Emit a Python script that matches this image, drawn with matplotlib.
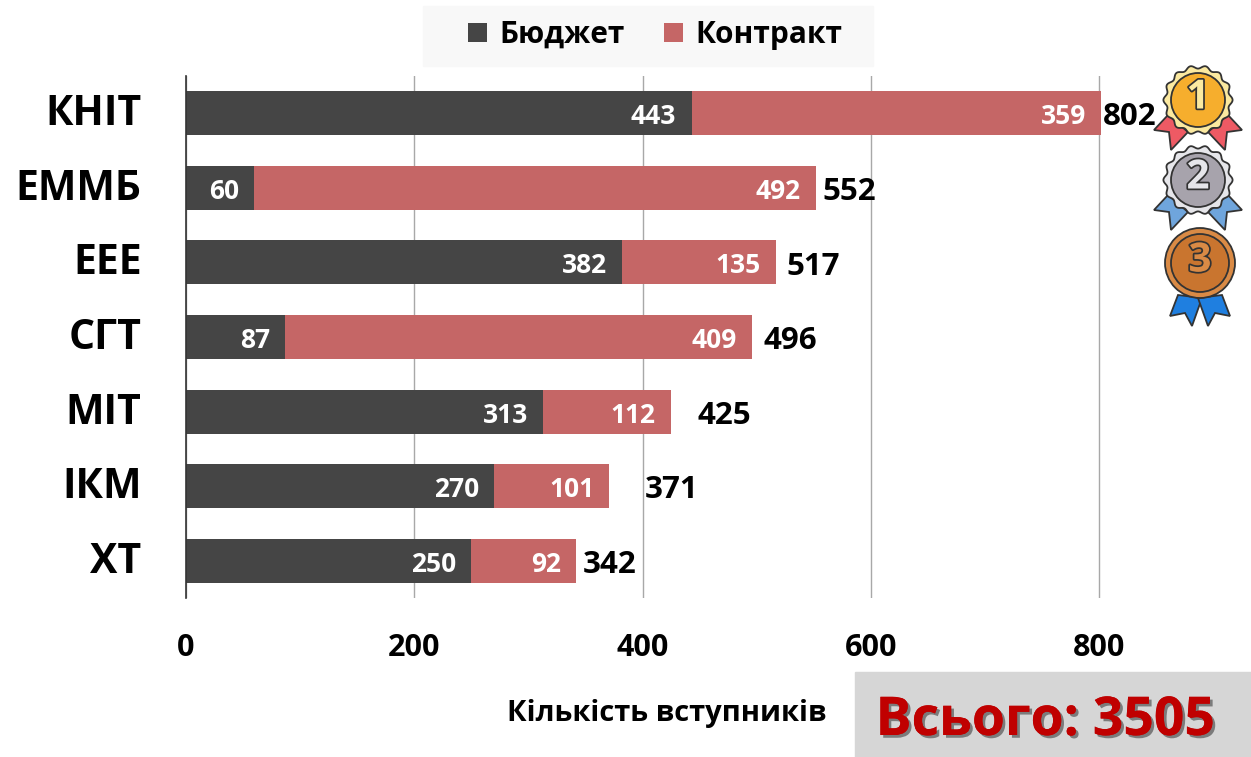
import numpy as np
import matplotlib
matplotlib.use('Agg')
import matplotlib.pyplot as plt
import matplotlib.patheffects as pe
from matplotlib.patches import Rectangle, Circle, Polygon
from matplotlib.transforms import ScaledTranslation

plt.rcParams['font.family'] = ['Open Sans', 'DejaVu Sans']
plt.rcParams['font.weight'] = 'bold'

# дані
faculties = ['КНІТ', 'ЕММБ', 'ЕЕЕ', 'СГТ', 'МІТ', 'ІКМ', 'ХТ']
budget = [443, 60, 382, 87, 313, 270, 250]
contract = [359, 492, 135, 409, 112, 101, 92]
totals = [802, 552, 517, 496, 425, 371, 342]
x_ticks = [0, 200, 400, 600, 800]
# відступ підпису суми від кінця смуги, px
total_gap = [2, 6, 10, 11, 26, 35, 6]

W, H = 1251, 757
dark = '#454545'
red = '#c56666'

fig = plt.figure(figsize=(W / 100, H / 100), dpi=100)
ax = fig.add_axes([186 / W, 1 - 598 / H, (W - 186) / W, 522 / H])

y = np.arange(len(faculties))
ax.barh(y, budget, height=0.59, color=dark, label='Бюджет', zorder=2)
ax.barh(y, contract, left=budget, height=0.59, color=red, label='Контракт', zorder=2)

for i in y:
    ax.annotate(str(budget[i]), (budget[i], i), xytext=(-11, -2.5), textcoords='offset points',
                ha='right', va='center', color='white', fontsize=19, zorder=3)
    ax.annotate(str(contract[i]), (budget[i] + contract[i], i), xytext=(-11, -2.5), textcoords='offset points',
                ha='right', va='center', color='white', fontsize=19, zorder=3)
    ax.annotate(str(totals[i]), (totals[i], i), xytext=(total_gap[i] * 0.72, -3), textcoords='offset points',
                ha='left', va='center', color='black', fontsize=22.5, zorder=3)

ax.set_xlim(0, (W - 186) / (913 / 800))
ax.set_ylim(len(faculties) - 0.5, -0.5)
ax.set_xticks(x_ticks)
ax.set_yticks(y)
ax.set_yticklabels(faculties, fontsize=29.5)
ax.tick_params(axis='y', length=0, pad=32)
ax.tick_params(axis='x', length=0, pad=25, labelsize=22)
for lab in ax.get_yticklabels():
    lab.set_transform(lab.get_transform() + ScaledTranslation(0, 2.5 / 72, fig.dpi_scale_trans))
ax.grid(axis='x', color='#a8a8a8', linewidth=1, zorder=0)
ax.set_axisbelow(True)
for s in ['top', 'right', 'bottom']:
    ax.spines[s].set_visible(False)
ax.spines['left'].set_color('#333333')
ax.spines['left'].set_linewidth(1.2)

# шар у пікселях для легенди, підписів і медалей
top = fig.add_axes([0, 0, 1, 1], facecolor='none')
top.set_xlim(0, W)
top.set_ylim(H, 0)
top.axis('off')

top.add_patch(Rectangle((423, 6), 450, 60, color='#f8f8f8', zorder=1))
leg = top.legend(*ax.get_legend_handles_labels(), loc='center', bbox_to_anchor=(655 / W, 1 - 35 / H),
                 ncol=2, frameon=False, fontsize=21.5, handlelength=0.65, handleheight=0.65,
                 handletextpad=0.4, columnspacing=1.3)
leg.set_zorder(2)

top.text(667, 713, 'Кількість вступників', ha='center', va='center', fontsize=21)

top.add_patch(Rectangle((855, 672), 396, 85, color='#d6d6d6', zorder=1))
top.text(1045, 721, 'Всього: 3505', ha='center', va='center', fontsize=38.5, color='#c00000', zorder=2,
         path_effects=[pe.withSimplePatchShadow(offset=(2, -2), shadow_rgbFace='#555555', alpha=0.7), pe.Normal()])

# форма стрічки відносно центру медалі (ліва половина)
wide_ribbon = np.array([(-30, 15), (-44, 30), (-29, 32), (-27, 50), (-10, 32)])
long_ribbon = np.array([(-22, 32), (-30, 53), (-15, 50), (-8, 63), (2, 35)])


def ribbons(cx, cy, shape, color):
    for side in (-1, 1):
        pts = shape * [-side, 1] + [cx, cy]
        top.add_patch(Polygon(pts, closed=True, facecolor=color, edgecolor='#333333', linewidth=1.3, zorder=3))


def medal(cx, cy, num, face, rim, shape, ribbon_color, scallops=True):
    ribbons(cx, cy, shape, ribbon_color)
    if scallops:
        a = np.linspace(0, 2 * np.pi, 240)
        rr = 33 + 1.6 * np.cos(a * 14)
        top.add_patch(Polygon(np.c_[cx + rr * np.cos(a), cy + rr * np.sin(a)], closed=True,
                              facecolor=rim, edgecolor='#333333', linewidth=1.3, zorder=4))
        r = 27
    else:
        top.add_patch(Circle((cx, cy), 35, facecolor=rim, edgecolor='#333333', linewidth=1.3, zorder=4))
        r = 29
    top.add_patch(Circle((cx, cy), r, facecolor=face, edgecolor='#333333', linewidth=1.3, zorder=5))
    top.text(cx, cy - 2, num, ha='center', va='center', fontsize=29, color=rim, zorder=6,
             path_effects=[pe.withStroke(linewidth=2.5, foreground='#333333')])


medal(1198, 100, '1', '#f6ae2d', '#fbe9a0', wide_ribbon, '#ee5a64')
medal(1198, 180, '2', '#a7a3ac', '#e6e6ea', wide_ribbon, '#6fa5dc')
medal(1200, 263, '3', '#c9752f', '#d98a45', long_ribbon, '#1f7fe0', scallops=False)

fig.savefig('out.png', dpi=100)
